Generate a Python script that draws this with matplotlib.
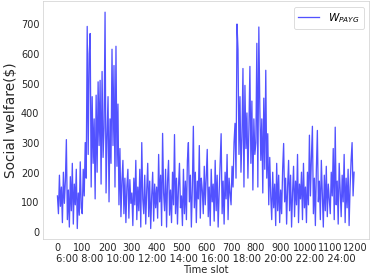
import numpy as np
import matplotlib
matplotlib.use("Agg")
import matplotlib.pyplot as plt

# social welfare per time slot, read every 4th slot off the picture
w_0600 = [120, 60, 190, 85, 150, 30, 200, 95, 170, 310, 40, 140, 15, 185, 70, 230, 25, 160, 90, 210, 10, 130, 55, 235, 80]
w_0800 = [60, 210, 120, 300, 180, 692, 260, 600, 668, 150, 455, 230, 380, 110, 460, 200, 505, 290, 510, 160, 540, 250, 350, 740, 130]
w_1000 = [320, 455, 100, 380, 230, 615, 290, 560, 150, 625, 220, 430, 90, 280, 50, 170, 240, 60, 180, 30, 150, 210, 45, 175, 95]
w_1200 = [130, 20, 180, 90, 240, 40, 150, 70, 210, 15, 300, 110, 60, 190, 25, 140, 230, 50, 170, 10, 120, 200, 35, 160, 80]
w_1400 = [150, 45, 260, 100, 190, 20, 331, 130, 70, 210, 15, 170, 240, 55, 140, 30, 200, 90, 327, 60, 180, 25, 150, 230, 80]
w_1600 = [120, 20, 210, 60, 170, 40, 240, 300, 100, 190, 15, 150, 355, 80, 200, 30, 170, 110, 290, 45, 180, 140, 60, 220, 90]
w_1800 = [180, 277, 50, 150, 20, 210, 100, 160, 35, 240, 70, 190, 15, 130, 230, 330, 60, 170, 25, 200, 110, 260, 40, 180, 130]
w_1900 = [90, 220, 150, 300, 365, 180, 700, 615, 260, 455, 200, 320, 550, 150, 493, 280, 400, 180, 350, 557, 230, 440, 140, 380, 260]
w_2000 = [300, 635, 150, 690, 420, 240, 380, 130, 450, 210, 544, 180, 330, 90, 250, 120, 40, 200, 80, 160, 20, 230, 70, 190, 30]
w_2200 = [140, 60, 210, 297, 100, 180, 25, 150, 240, 70, 190, 15, 130, 220, 50, 170, 90, 260, 30, 160, 110, 200, 40, 230, 80]
w_2300 = [150, 30, 200, 90, 325, 120, 250, 355, 60, 180, 20, 210, 341, 100, 170, 40, 240, 130, 15, 190, 70, 220, 50, 160, 110]
w_2400 = [60, 200, 120, 280, 40, 352, 90, 170, 25, 230, 140, 50, 190, 100, 260, 30, 180, 80, 210, 20, 150, 240, 300, 120, 200]

welfare = (w_0600 + w_0800 + w_1000 + w_1200 + w_1400 + w_1600 + w_1800
           + w_1900 + w_2000 + w_2200 + w_2300 + w_2400)
slots = np.arange(0, 4 * len(welfare), 4)

xticks = list(range(0, 1201, 100))
hours = ["6:00", "8:00", "10:00", "12:00", "14:00", "16:00", "18:00", "20:00", "22:00", "24:00"]

fig = plt.figure(figsize=(6.4, 4.8), dpi=58.4)
ax = fig.add_axes([0.114, 0.145, 0.873, 0.849])

ax.plot(slots, welfare, color="blue", alpha=0.68, lw=1.6, label="$W_{PAYG}$")

ax.set_xticks(xticks)
ax.set_yticks(range(0, 701, 100))
ax.tick_params(length=0, labelsize=12, labelcolor="#262626", pad=4)
for s in ax.spines.values():
    s.set_color("#cccccc")

ax.set_xlabel(" ".join(hours) + "\nTime slot", fontsize=12.4, color="#262626", labelpad=1)
ax.set_ylabel("Social welfare($)", fontsize=17, color="#262626")
ax.legend(loc="upper right", fontsize=13)

fig.savefig("out.png", dpi=58.4)
